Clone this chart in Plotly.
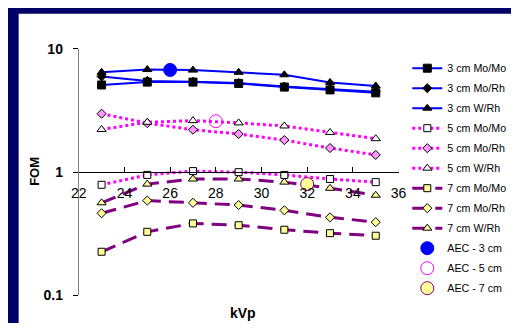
import plotly.graph_objects as go

# kVp settings and figure-of-merit values
kvp = [23, 25, 27, 29, 31, 33, 35]

fom_3cm_momo = [5.10, 5.38, 5.38, 5.25, 4.90, 4.65, 4.40]
fom_3cm_morh = [5.98, 5.50, 5.42, 5.28, 4.95, 4.72, 4.50]
fom_3cm_wrh = [6.46, 6.80, 6.73, 6.46, 6.17, 5.35, 5.01]

fom_5cm_momo = [0.79, 0.95, 1.02, 1.00, 0.95, 0.88, 0.83]
fom_5cm_morh = [2.98, 2.50, 2.21, 2.04, 1.82, 1.57, 1.38]
fom_5cm_wrh = [2.22, 2.54, 2.62, 2.51, 2.37, 2.10, 1.87]

fom_7cm_momo = [0.226, 0.328, 0.384, 0.371, 0.341, 0.320, 0.305]
fom_7cm_morh = [0.464, 0.588, 0.564, 0.541, 0.490, 0.430, 0.393]
fom_7cm_wrh = [0.564, 0.800, 0.880, 0.880, 0.830, 0.740, 0.650]

# AEC operating points
aec_kvp = [26, 28, 32]
aec_fom = [6.75, 2.59, 0.80]

x_ticks = [22, 24, 26, 28, 30, 32, 34, 36]
y_ticks = [0.1, 1, 10]
y_tick_labels = ["0.1", "1", "10"]

NAVY = "#000066"
BLUE = "#0000FF"
MAGENTA = "#FF00FF"
PURPLE = "#800080"
YELLOW = "#FFFF99"
FONT = "Liberation Sans, Arial, sans-serif"

fig = go.Figure()


def add_series(name, y, color, width, dash, symbol, fill, size):
    fig.add_trace(go.Scatter(
        x=kvp, y=y, name=name, mode="lines+markers",
        legendgroup=name,
        line=dict(color=color, width=width, dash=dash),
        marker=dict(symbol=symbol, color=fill, size=size,
                    line=dict(color="black", width=1)),
    ))


add_series("3 cm Mo/Mo", fom_3cm_momo, BLUE, 2, "solid", "square", "black", 8)
add_series("3 cm Mo/Rh", fom_3cm_morh, BLUE, 2, "solid", "diamond", "black", 7)
add_series("3 cm W/Rh", fom_3cm_wrh, BLUE, 2, "solid", "triangle-up", "black", 8)
add_series("5 cm Mo/Mo", fom_5cm_momo, MAGENTA, 3, "dot", "square", "white", 7)
add_series("5 cm Mo/Rh", fom_5cm_morh, MAGENTA, 3, "dot", "diamond", "#FF99FF", 7)
add_series("5 cm W/Rh", fom_5cm_wrh, MAGENTA, 3, "dot", "triangle-up", "white", 8)
add_series("7 cm Mo/Mo", fom_7cm_momo, PURPLE, 3, "15px,8px", "square", YELLOW, 7)
add_series("7 cm Mo/Rh", fom_7cm_morh, PURPLE, 3, "15px,8px", "diamond", YELLOW, 7)
add_series("7 cm W/Rh", fom_7cm_wrh, PURPLE, 3, "15px,8px", "triangle-up", YELLOW, 8)

aec_names = ["AEC - 3 cm", "AEC - 5 cm", "AEC - 7 cm"]
aec_fill = [BLUE, "rgba(0,0,0,0)", YELLOW]
aec_edge = [BLUE, MAGENTA, PURPLE]
for i in range(3):
    fig.add_trace(go.Scatter(
        x=[aec_kvp[i]], y=[aec_fom[i]], name=aec_names[i], mode="markers",
        legendgroup=aec_names[i],
        marker=dict(symbol="circle", color=aec_fill[i], size=13,
                    line=dict(color=aec_edge[i], width=1)),
    ))

W, H = 519, 331
fig.update_layout(
    width=W, height=H,
    margin=dict(l=0, r=0, t=0, b=0),
    paper_bgcolor="white", plot_bgcolor="white",
    font=dict(family=FONT, color="black"),
    showlegend=True,
    legend=dict(
        x=412 / W, y=1 - 48 / H, xanchor="left", yanchor="top",
        font=dict(size=10.7, color="black", family=FONT),
        traceorder="grouped", tracegroupgap=1,
        bgcolor="rgba(0,0,0,0)", itemsizing="trace",
    ),
    hovermode=False,
    shapes=[
        dict(type="rect", xref="paper", yref="paper", x0=0, x1=11 / W, y0=0, y1=1,
             fillcolor=NAVY, line=dict(width=0), layer="below"),
        dict(type="rect", xref="paper", yref="paper", x0=0, x1=1, y0=1 - 6 / H, y1=1,
             fillcolor=NAVY, line=dict(width=0), layer="below"),
    ],
    annotations=[
        dict(text="<b>FOM</b>", xref="paper", yref="paper", x=28 / W, y=1 - 172 / H,
             xanchor="center", yanchor="middle",
             textangle=-90, showarrow=False, font=dict(size=13)),
        dict(text="<b>kVp</b>", xref="paper", yref="paper", x=242 / W, y=1 - 320 / H,
             xanchor="center", yanchor="middle",
             showarrow=False, font=dict(size=14)),
    ],
)

y_dom = [1 - 302 / H, 1 - 43 / H]
fig.update_xaxes(
    range=[22, 36], domain=[73 / W, 403 / W],
    anchor="free", position=(y_dom[0] + y_dom[1]) / 2,
    tickvals=x_ticks, ticks="inside", ticklen=5, tickcolor="black",
    ticklabelstandoff=8,
    showline=True, linecolor="black", linewidth=1,
    showgrid=False, zeroline=False,
    tickfont=dict(size=14, family=FONT),
    tickprefix="<b>", ticksuffix="</b>",
)
fig.update_yaxes(
    type="log", range=[-1, 1], domain=y_dom,
    tickvals=y_ticks, ticktext=["<b>" + t + "</b>" for t in y_tick_labels],
    ticks="outside", ticklen=5, tickcolor="black",
    ticklabelstandoff=7,
    showline=True, linecolor="#808080", linewidth=1,
    showgrid=False, zeroline=False,
    tickfont=dict(size=14, family=FONT),
)

fig.write_html("out.html")
